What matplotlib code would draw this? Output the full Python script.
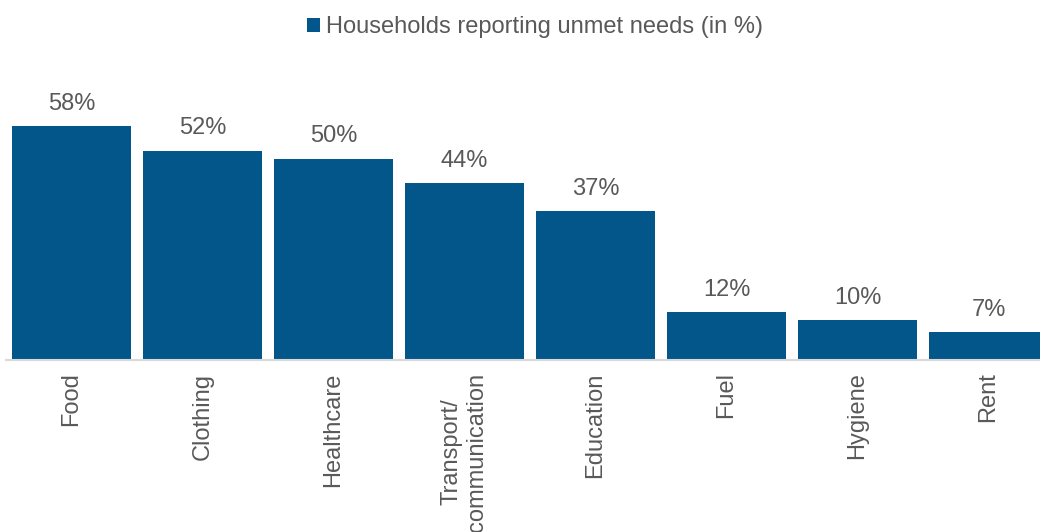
import matplotlib.pyplot as plt

plt.rcParams['font.family'] = ['Liberation Sans', 'DejaVu Sans']

categories = ['Food', 'Clothing', 'Healthcare', 'Transport/\ncommunication',
              'Education', 'Fuel', 'Hygiene', 'Rent']
values = [58, 52, 50, 44, 37, 12, 10, 7]
series_name = 'Households reporting unmet needs (in %)'

bar_color = '#02568A'
text_color = '#595959'

fig = plt.figure(figsize=(10.4, 5.32), dpi=100, facecolor='white')
# axes runs slightly past the right edge so the last bar is clipped
ax = fig.add_axes([6 / 1040, 172 / 532, 1048 / 1040, 282 / 532])

x = list(range(len(categories)))
bars = ax.bar(x, values, width=0.91, color=bar_color, label=series_name)

for xi, v in zip(x, values):
    ax.annotate(f'{v}%', (xi, v), xytext=(0, 8), textcoords='offset points',
                ha='center', va='bottom', fontsize=17, color=text_color)

ax.set_xlim(-0.5, len(categories) - 0.5)
ax.set_ylim(0, 70)
ax.set_xticks(x)
ax.set_xticklabels(categories, rotation=90, fontsize=17, color=text_color,
                   ma='center')
ax.tick_params(axis='x', length=0, pad=9)
ax.set_yticks([])

for side in ['top', 'right', 'left']:
    ax.spines[side].set_visible(False)
ax.spines['bottom'].set_color('#D9D9D9')
ax.spines['bottom'].set_linewidth(1.5)

leg = fig.legend(loc='center', bbox_to_anchor=(535 / 1040, 1 - 27 / 532),
                 frameon=False, fontsize=17, handlelength=0.55, handleheight=0.55,
                 handletextpad=0.25)
for t in leg.get_texts():
    t.set_color(text_color)

fig.savefig('out.png', dpi=100, facecolor='white')
